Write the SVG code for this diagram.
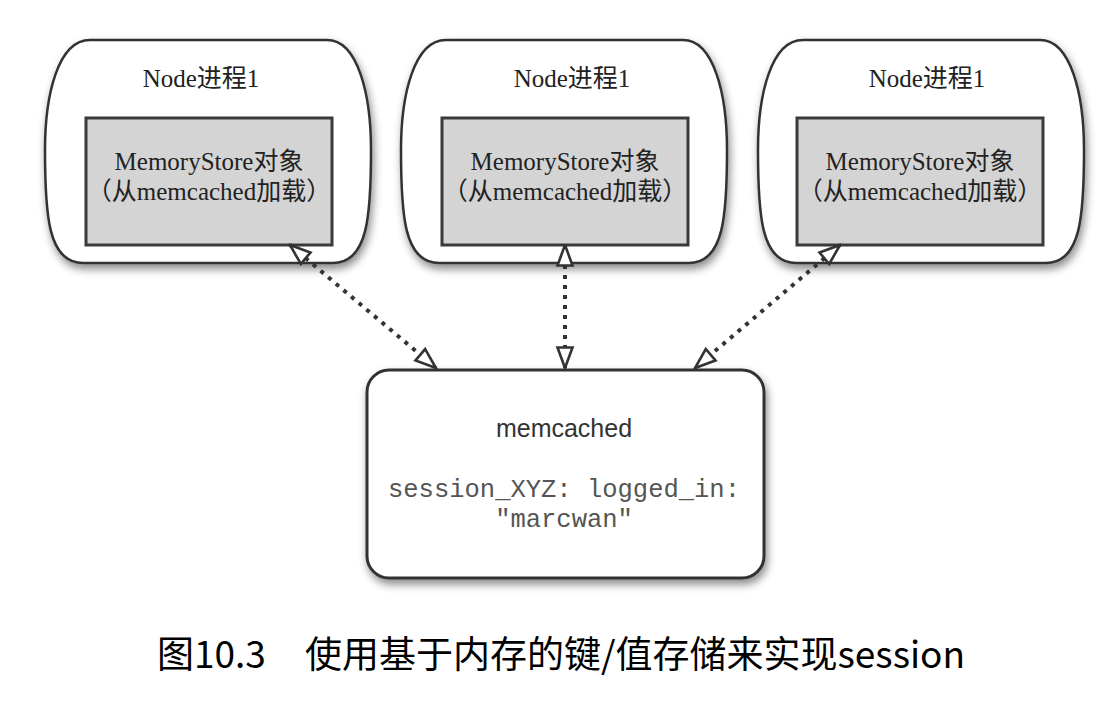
<svg xmlns="http://www.w3.org/2000/svg" width="1110" height="702" viewBox="0 0 1110 702">
<defs>
<style>
.outer{fill:#fff;stroke:#333;stroke-width:2.5;filter:url(#sh)}
.inner{fill:#d4d4d4;stroke:#3a3a3a;stroke-width:3}
.t1{font-family:"Liberation Serif","Noto Sans CJK SC",serif;font-size:25px;fill:#222;text-anchor:middle}
.mem{fill:#fff;stroke:#333;stroke-width:3;filter:url(#sh)}
.sans{font-family:"Liberation Sans",Arial,sans-serif;font-size:25px;fill:#333;text-anchor:middle}
.mono{font-family:"Liberation Mono","Courier New",monospace;font-size:25.5px;fill:#555;text-anchor:middle}
.cap{font-family:"Noto Sans CJK SC",sans-serif;font-size:37px;font-weight:400;fill:#000}
.conn{fill:none;stroke:#333;stroke-width:4;stroke-dasharray:4 6;marker-start:url(#ah);marker-end:url(#ah)}
</style>
<filter id="sh" x="-10%" y="-10%" width="125%" height="130%">
<feDropShadow dx="2" dy="5" stdDeviation="4" flood-color="#000" flood-opacity="0.45"/>
</filter>
<marker id="ah" viewBox="0 0 24 20" refX="22.5" refY="10" markerWidth="24" markerHeight="20" markerUnits="userSpaceOnUse" orient="auto-start-reverse">
<path d="M2,2.5 L22.5,10 L2,17.5 Z" fill="#fff" stroke="#333" stroke-width="2.6" stroke-linejoin="miter"/>
</marker>
</defs>
<rect width="1110" height="702" fill="#fff"/>

<g id="node1">
<path class="outer" d="M90,40 L327,40 C358,40 371,95 371,150 C371,215 368,263 333,263 L83,263 C48,263 45,215 45,150 C45,95 58,40 90,40 Z"/>
<rect class="inner" x="86" y="118" width="246" height="127"/>
<text class="t1" x="201" y="87">Node进程1</text>
<text class="t1" x="209" y="170">MemoryStore对象</text>
<text class="t1" x="209" y="200">（从memcached加载）</text>
</g>

<g id="node2">
<path class="outer" d="M446,40 L683,40 C714,40 727,95 727,150 C727,215 724,263 689,263 L439,263 C404,263 401,215 401,150 C401,95 414,40 446,40 Z"/>
<rect class="inner" x="442" y="118" width="246" height="127"/>
<text class="t1" x="572" y="87">Node进程1</text>
<text class="t1" x="565" y="170">MemoryStore对象</text>
<text class="t1" x="565" y="200">（从memcached加载）</text>
</g>

<g id="node3">
<path class="outer" d="M803,40 L1040,40 C1071,40 1084,95 1084,150 C1084,215 1081,263 1046,263 L796,263 C761,263 758,215 758,150 C758,95 771,40 803,40 Z"/>
<rect class="inner" x="797" y="118" width="246" height="127"/>
<text class="t1" x="927" y="87">Node进程1</text>
<text class="t1" x="920" y="170">MemoryStore对象</text>
<text class="t1" x="920" y="200">（从memcached加载）</text>
</g>

<g id="memcached">
<rect class="mem" x="367" y="370" width="397" height="208" rx="22" ry="22"/>
<text class="sans" x="564" y="437">memcached</text>
<text class="mono" x="564" y="497">session_XYZ: logged_in:</text>
<text class="mono" x="564" y="527">"marcwan"</text>
</g>

<g id="connectors">
<line class="conn" x1="290" y1="245" x2="436" y2="368"/>
<line class="conn" x1="565" y1="245" x2="565" y2="368"/>
<line class="conn" x1="840" y1="245" x2="695" y2="368"/>
</g>

<g id="caption">
<text class="cap" y="668"><tspan x="157">图10.3</tspan><tspan x="305">使用基于内存的键/值存储来实现session</tspan></text>
</g>
</svg>
